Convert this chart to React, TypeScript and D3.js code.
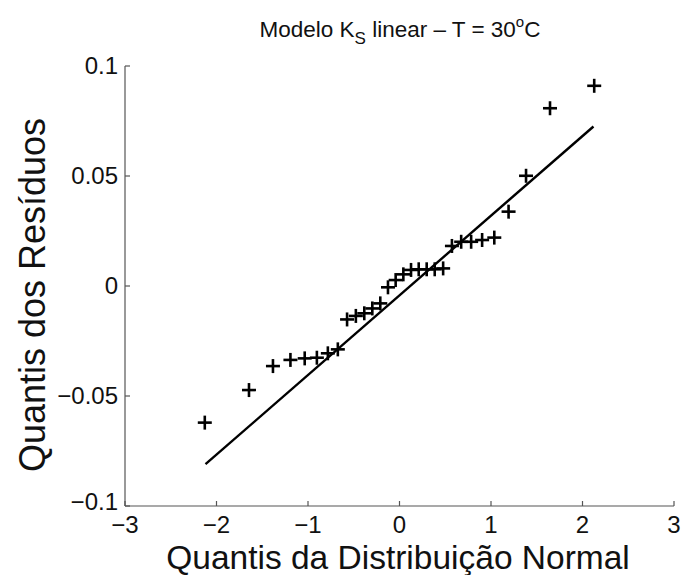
import React from "react";
import * as d3 from "d3";

const theoreticalQuantiles = [
  -2.128, -1.645, -1.383, -1.192, -1.036, -0.903, -0.783, -0.674, -0.573, -0.477,
  -0.385, -0.297, -0.21, -0.126, -0.042, 0.042, 0.126, 0.21, 0.297, 0.385,
  0.477, 0.573, 0.674, 0.783, 0.903, 1.036, 1.192, 1.383, 1.645, 2.128,
];
const residualQuantiles = [
  -0.0621, -0.0473, -0.0364, -0.0336, -0.0329, -0.0326, -0.0306, -0.0288, -0.0152, -0.0136,
  -0.0124, -0.0102, -0.0079, -0.0006, 0.0027, 0.0053, 0.0073, 0.0076, 0.0076, 0.0076,
  0.008, 0.0182, 0.0201, 0.0201, 0.0209, 0.022, 0.0338, 0.0501, 0.0808, 0.091,
];
const refLineX = [-2.12, 2.12];
const refLineY = [-0.081, 0.0725];
const xTicks = [-3, -2, -1, 0, 1, 2, 3];
const yTicks = [-0.1, -0.05, 0, 0.05, 0.1];

const W = 683;
const H = 575;
const left = 125;
const right = 674;
const top = 66;
const bottom = 506;
const FONT = "'Liberation Sans', Arial, Helvetica, sans-serif";

const fmt = (v: number) => {
  const s = String(v);
  return s.startsWith("-") ? "\u2212" + s.slice(1) : s;
};

export default function App() {
  const x = d3.scaleLinear().domain([-3, 3]).range([left, right]);
  const y = d3.scaleLinear().domain([-0.1, 0.1]).range([bottom, top]);
  const line = d3
    .line<[number, number]>()
    .x((d) => x(d[0]))
    .y((d) => y(d[1]));
  const lineData: [number, number][] = refLineX.map((v, i) => [v, refLineY[i]]);
  const half = 7;
  const axisColor = "#555";

  return (
    <svg width={W} height={H} style={{ display: "block", position: "absolute", left: 0, top: 0, background: "#fff" }}>
      <rect x={0} y={0} width={W} height={H} fill="#fff" />
      {/* title */}
      <text x={400} y={37} textAnchor="middle" fontFamily={FONT} fontSize={22.5} fill="#111">
        Modelo K
        <tspan fontSize={17} dy={7}>S</tspan>
        <tspan dy={-7}> linear – T = 30</tspan>
        <tspan fontSize={15} dy={-10}>o</tspan>
        <tspan dy={10}>C</tspan>
      </text>
      {/* axes */}
      <line x1={left} y1={top} x2={left} y2={bottom} stroke={axisColor} strokeWidth={1.2} />
      <line x1={left} y1={bottom} x2={right} y2={bottom} stroke={axisColor} strokeWidth={1.2} />
      {yTicks.map((t) => (
        <g key={"y" + t}>
          <line x1={left} x2={left + 5} y1={y(t)} y2={y(t)} stroke={axisColor} strokeWidth={1.2} />
          <text x={left - 7} y={y(t)} dy={t === -0.1 ? "0.15em" : "0.35em"} textAnchor="end" fontFamily={FONT} fontSize={24} fill="#111">
            {fmt(t)}
          </text>
        </g>
      ))}
      {xTicks.map((t) => (
        <g key={"x" + t}>
          <line x1={x(t)} x2={x(t)} y1={bottom} y2={bottom - 5} stroke={axisColor} strokeWidth={1.2} />
          <text x={x(t)} y={bottom + 27} textAnchor="middle" fontFamily={FONT} fontSize={24} fill="#111">
            {fmt(t)}
          </text>
        </g>
      ))}
      {/* axis labels */}
      <text x={398} y={569} textAnchor="middle" fontFamily={FONT} fontSize={33.5} fill="#111">
        Quantis da Distribuição Normal
      </text>
      <text
        transform={`translate(45, 295) rotate(-90)`}
        textAnchor="middle"
        fontFamily={FONT}
        fontSize={36}
        fill="#111"
      >
        Quantis dos Resíduos
      </text>
      {/* reference line */}
      <path d={line(lineData) || ""} stroke="#000" strokeWidth={2.4} fill="none" />
      {/* points */}
      {theoreticalQuantiles.map((q, i) => {
        const cx = x(q);
        const cy = y(residualQuantiles[i]);
        return (
          <g key={i} stroke="#000" strokeWidth={2.6}>
            <line x1={cx - half} x2={cx + half} y1={cy} y2={cy} />
            <line x1={cx} x2={cx} y1={cy - half} y2={cy + half} />
          </g>
        );
      })}
    </svg>
  );
}
